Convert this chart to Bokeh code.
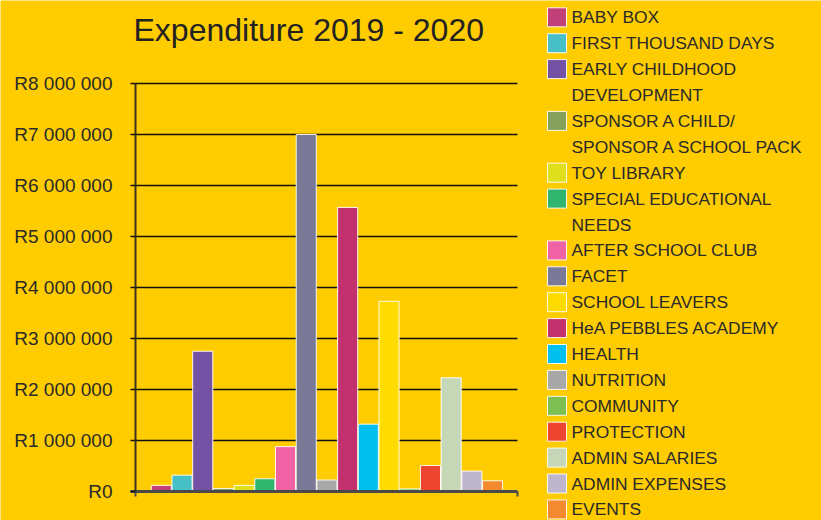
from bokeh.plotting import figure
from bokeh.models import Range1d, FixedTicker, ColumnDataSource, LinearAxis
from bokeh.core.properties import value
from bokeh.embed import file_html
from bokeh.resources import INLINE

title_text = "Expenditure 2019 - 2020"

# Categories in legend order ("\n" marks a wrapped legend line)
categories = [
    "BABY BOX",
    "FIRST THOUSAND DAYS",
    "EARLY CHILDHOOD\nDEVELOPMENT",
    "SPONSOR A CHILD/\nSPONSOR A SCHOOL PACK",
    "TOY LIBRARY",
    "SPECIAL EDUCATIONAL\nNEEDS",
    "AFTER SCHOOL CLUB",
    "FACET",
    "SCHOOL LEAVERS",
    "HeA PEBBLES ACADEMY",
    "HEALTH",
    "NUTRITION",
    "COMMUNITY",
    "PROTECTION",
    "ADMIN SALARIES",
    "ADMIN EXPENSES",
    "EVENTS",
]
values = [120000, 320000, 2750000, 60000, 120000, 250000, 880000, 7000000,
          3730000, 5570000, 1320000, 225000, 50000, 510000, 2230000, 400000, 210000]
colors = ["#C1407A", "#47BFC7", "#7352A3", "#85A05A", "#E0DF1E", "#2FB56D",
          "#EF62A4", "#7A7A98", "#FFDC00", "#C2306E", "#00C0F0", "#A8A8A8",
          "#7DBF50", "#EE4530", "#C5D7B7", "#BDB6CC", "#F38A30"]

# Order of the bars along the x axis
bar_order = [
    "BABY BOX",
    "FIRST THOUSAND DAYS",
    "EARLY CHILDHOOD\nDEVELOPMENT",
    "SPONSOR A CHILD/\nSPONSOR A SCHOOL PACK",
    "TOY LIBRARY",
    "SPECIAL EDUCATIONAL\nNEEDS",
    "AFTER SCHOOL CLUB",
    "FACET",
    "NUTRITION",
    "HeA PEBBLES ACADEMY",
    "HEALTH",
    "SCHOOL LEAVERS",
    "COMMUNITY",
    "PROTECTION",
    "ADMIN SALARIES",
    "ADMIN EXPENSES",
    "EVENTS",
]

ytick_values = [0, 1000000, 2000000, 3000000, 4000000, 5000000, 6000000, 7000000, 8000000]
ytick_labels = ["R0", "R1 000 000", "R2 000 000", "R3 000 000", "R4 000 000",
                "R5 000 000", "R6 000 000", "R7 000 000", "R8 000 000"]

BG = "#FFCC00"
FONT = "Liberation Sans"
TXT = "#2a2a2a"

# ---- layout constants (pixels) ----
W, H = 821, 520
AX_LEFT, AX_RIGHT = 135, 517      # plot area left / right
Y0_PX, YTOP_PX = 491, 83          # pixel rows of R0 and R8 000 000
BAR0_PX, SLOT_PX = 150.5, 20.7    # left edge of first bar slot, slot width
YMAX = ytick_values[-1]
k = YMAX / (Y0_PX - YTOP_PX)      # value per pixel


def xs(px):
    return (px - BAR0_PX) / SLOT_PX


p = figure(width=W, height=H, output_backend="svg", toolbar_location=None,
           x_range=Range1d(xs(0), xs(W)),
           y_range=Range1d(-(H - Y0_PX) * k, YMAX + YTOP_PX * k),
           x_axis_type=None, y_axis_type=None, min_border=0)
p.background_fill_color = BG
p.border_fill_color = BG
p.outline_line_color = None
p.grid.visible = False
p.extra_x_ranges = {"px": Range1d(0, W)}
p.extra_y_ranges = {"px": Range1d(H, 0)}

# grid lines (at the tick values, across the plot area)
grid_vals = ytick_values[1:]
p.segment(x0=[xs(AX_LEFT)] * len(grid_vals), x1=[xs(AX_RIGHT)] * len(grid_vals),
          y0=grid_vals, y1=grid_vals, line_color="#111111", line_width=1.7)

# bars
bar_x = [bar_order.index(c) + 0.5 for c in categories]
src = ColumnDataSource(dict(x=bar_x, value=values, color=colors))
p.vbar(x="x", top="value", width=0.97, source=src,
       fill_color="color", line_color="white", line_width=1, line_alpha=0.9)

# y axis
ya = LinearAxis(fixed_location=xs(AX_LEFT), bounds=(0, YMAX))
ya.ticker = FixedTicker(ticks=ytick_values)
ya.major_label_overrides = {v: l for v, l in zip(ytick_values, ytick_labels)}
ya.major_label_text_font = FONT
ya.major_label_text_font_size = "19px"
ya.major_label_text_color = TXT
ya.major_label_standoff = 18
ya.major_tick_out = 5
ya.major_tick_in = 0
ya.major_tick_line_color = "#111111"
ya.major_tick_line_width = 1.7
ya.minor_tick_line_color = None
ya.axis_line_color = "#3a3320"
ya.axis_line_width = 2
p.add_layout(ya, "left")

# x axis (baseline)
xa = LinearAxis(fixed_location=0, bounds=(xs(AX_LEFT - 5), xs(AX_RIGHT)))
xa.ticker = FixedTicker(ticks=[xs(AX_LEFT), xs(AX_RIGHT)])
xa.axis_line_color = "#4a4a4a"
xa.axis_line_width = 3
xa.major_tick_line_color = "#4a4a4a"
xa.major_tick_line_width = 2
xa.major_tick_out = 5
xa.major_tick_in = 0
xa.minor_tick_line_color = None
xa.major_label_text_font_size = "0px"
xa.major_label_text_alpha = 0
p.add_layout(xa, "below")

# title
p.text(x=[133], y=[29.5], text=[title_text], x_range_name="px", y_range_name="px",
       text_font=value(FONT), text_font_size=value("32px"), text_color="#222222",
       text_baseline="alphabetic", text_align="left")

# legend
LEG_TOP, LEG_PITCH, SQ_X, TXT_X = 16.8, 25.9, 556.5, 571
leg_labels, leg_y, sq_y, sq_color = [], [], [], []
line_no = 0
for cat, col in zip(categories, colors):
    for j, part in enumerate(cat.split("\n")):
        y = LEG_TOP + line_no * LEG_PITCH
        leg_labels.append(part)
        leg_y.append(y)
        if j == 0:
            sq_y.append(y)
            sq_color.append(col)
        line_no += 1

p.rect(x=[SQ_X] * len(sq_y), y=sq_y, width=19, height=19,
       width_units="screen", height_units="screen",
       x_range_name="px", y_range_name="px",
       fill_color=sq_color, line_color="white", line_width=1, line_alpha=0.9)
p.text(x=[TXT_X] * len(leg_y), y=leg_y, text=leg_labels,
       x_range_name="px", y_range_name="px",
       text_font=value(FONT), text_font_size=value("17.4px"), text_color=TXT,
       text_baseline="middle", text_align="left")

open("out.html", "w").write(file_html(p, INLINE))
